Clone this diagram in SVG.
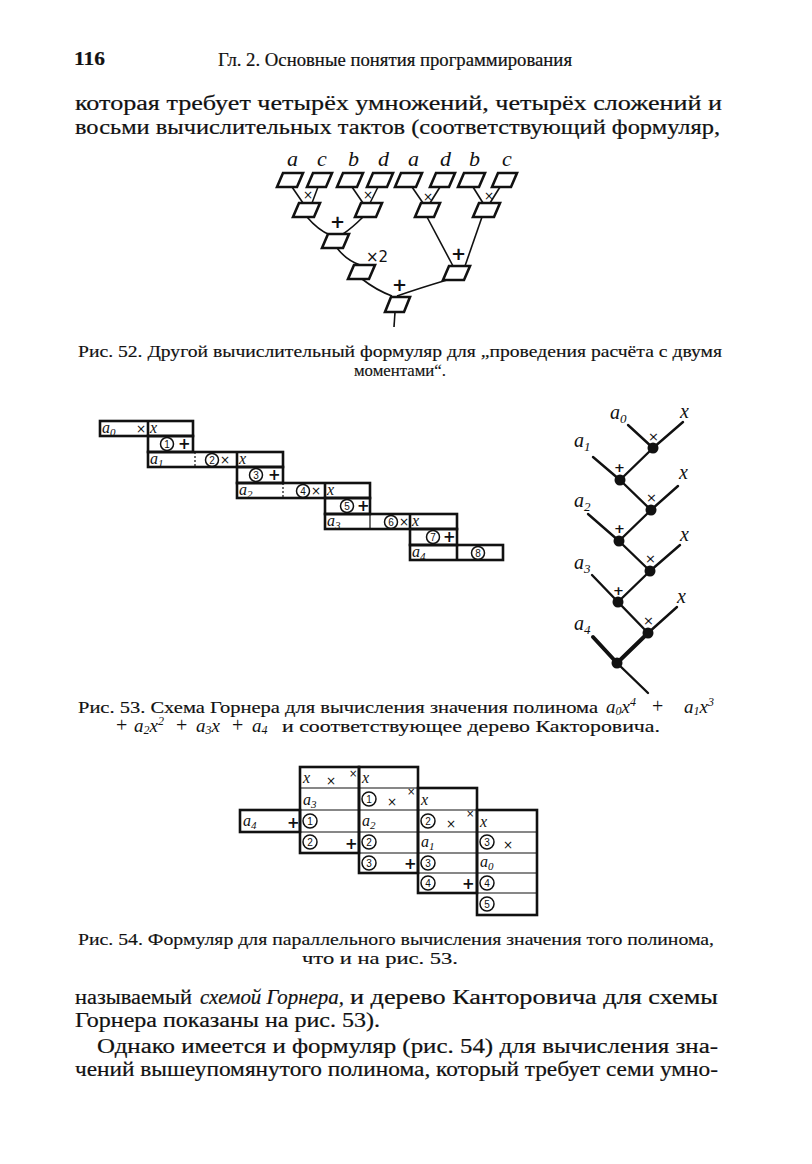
<svg xmlns="http://www.w3.org/2000/svg" width="812" height="1164" viewBox="0 0 812 1164">
<style>
.t{font-family:"Liberation Serif",serif;font-size:20px;fill:#111;stroke:#111;stroke-width:0.2}
.c{font-family:"Liberation Serif",serif;font-size:16px;fill:#111;stroke:#111;stroke-width:0.15}
.h{font-family:"Liberation Serif",serif;font-size:18px;fill:#111;stroke:#111;stroke-width:0.2}
.m{font-family:"Liberation Serif",serif;font-style:italic;fill:#111}
.op{font-family:"DejaVu Sans",sans-serif;fill:#111}
.pg{fill:#fff;stroke:#111;stroke-width:2.6;stroke-linejoin:miter}
.ln{fill:none;stroke:#111;stroke-width:1.6}
.tk{fill:none;stroke:#111;stroke-width:2.6}
.th{fill:none;stroke:#111;stroke-width:1.2}
.dash{fill:none;stroke:#111;stroke-width:1.2;stroke-dasharray:2 2}
.cr{fill:none;stroke:#111;stroke-width:1.5}
.cn{font-family:"Liberation Sans",sans-serif;font-size:10px;fill:#111;text-anchor:middle}
.tr{fill:none;stroke:#111;stroke-width:2.4;stroke-linecap:round}
.trk{fill:none;stroke:#111;stroke-width:4;stroke-linecap:round}
.nd{fill:#111}
.pl{font-family:"Liberation Serif",serif;font-size:20px;fill:#111}
</style>
<rect width="812" height="1164" fill="#fff"/>

<!-- page header and text -->
<g id="header">
<text class="h" x="74" y="65" textLength="31" lengthAdjust="spacingAndGlyphs" font-weight="bold">116</text>
<text class="h" x="218" y="66" textLength="354" lengthAdjust="spacingAndGlyphs">Гл. 2. Основные понятия программирования</text>
</g>
<g id="para-top">
<text class="t" x="75" y="110" textLength="647" lengthAdjust="spacingAndGlyphs">которая  требует  четырёх  умножений,  четырёх  сложений  и</text>
<text class="t" x="75" y="134" textLength="645" lengthAdjust="spacingAndGlyphs">восьми  вычислительных  тактов  (соответствующий  формуляр,</text>
</g>

<!-- Fig 52 -->
<g id="fig52">
<g id="fig52-labels" class="m" font-size="22">
<text x="287" y="166">a</text><text x="317" y="166">c</text><text x="348" y="166">b</text><text x="378" y="166">d</text>
<text x="408" y="166">a</text><text x="440" y="166">d</text><text x="469" y="166">b</text><text x="502" y="166">c</text>
</g>
<g id="fig52-connectors">
<line class="ln" x1="292" y1="187" x2="303" y2="203"/>
<line class="ln" x1="318" y1="187" x2="312" y2="203"/>
<line class="ln" x1="352" y1="187" x2="363" y2="203"/>
<line class="ln" x1="378" y1="187" x2="370" y2="203"/>
<line class="ln" x1="412" y1="187" x2="423" y2="203"/>
<line class="ln" x1="440" y1="187" x2="430" y2="203"/>
<line class="ln" x1="473" y1="187" x2="483" y2="203"/>
<line class="ln" x1="500" y1="187" x2="490" y2="203"/>
<path class="ln" d="M307 217 Q318 230 330 235"/>
<path class="ln" d="M363 217 Q352 228 343 234"/>
<path class="ln" d="M337 248 Q346 260 360 265"/>
<line class="ln" x1="427" y1="217" x2="453" y2="266"/>
<line class="ln" x1="482" y1="217" x2="465" y2="266"/>
<path class="ln" d="M362 279 Q376 290 392 296"/>
<path class="ln" d="M447 280 Q420 288 397 296"/>
<line class="ln" x1="395" y1="312" x2="394" y2="327"/>
</g>
<g id="fig52-ops" class="op">
<text x="303" y="199" font-size="12">×</text>
<text x="363" y="199" font-size="12">×</text>
<text x="423" y="201" font-size="12">×</text>
<text x="484" y="200" font-size="12">×</text>
<text x="330" y="228" font-size="18" font-weight="bold">+</text>
<text x="366" y="262" font-size="15">×2</text>
<text x="451" y="260" font-size="18" font-weight="bold">+</text>
<text x="392" y="291" font-size="18" font-weight="bold">+</text>
</g>
<g id="fig52-row1">
<polygon class="pg" points="277,187 283,173 303,173 297,187"/>
<polygon class="pg" points="307,187 313,173 332,173 326,187"/>
<polygon class="pg" points="337,187 343,173 363,173 357,187"/>
<polygon class="pg" points="367,187 373,173 393,173 387,187"/>
<polygon class="pg" points="395,187 401,173 422,173 416,187"/>
<polygon class="pg" points="430,187 436,173 455,173 449,187"/>
<polygon class="pg" points="458,187 464,173 485,173 479,187"/>
<polygon class="pg" points="492,187 498,173 517,173 511,187"/>
</g>
<g id="fig52-row2">
<polygon class="pg" points="293,217 299,203 320,203 314,217"/>
<polygon class="pg" points="355,217 361,203 382,203 376,217"/>
<polygon class="pg" points="415,217 421,203 440,203 434,217"/>
<polygon class="pg" points="473,217 479,203 500,203 494,217"/>
</g>
<g id="fig52-row3">
<polygon class="pg" points="322,248 328,234 349,234 343,248"/>
<polygon class="pg" points="348,279 354,265 375,265 369,279"/>
<polygon class="pg" points="443,280 449,266 470,266 464,280"/>
<polygon class="pg" points="385,312 391,297 410,297 404,312"/>
</g>
<text class="c" x="78" y="357" textLength="644" lengthAdjust="spacingAndGlyphs">Рис. 52. Другой вычислительный формуляр для „проведения расчёта с двумя</text>
<text class="c" x="354" y="376" textLength="92" lengthAdjust="spacingAndGlyphs">моментами“.</text>
</g>

<!-- Fig 53 left: Horner formular -->
<g id="fig53-table">
<g id="h-step1">
<rect class="tk" x="100" y="421" width="93" height="15"/>
<line class="tk" x1="148" y1="421" x2="148" y2="436"/>
<rect class="tk" x="148" y="436" width="45" height="16"/>
<text class="m" x="102" y="433" font-size="16">a<tspan font-size="11" dy="3">0</tspan></text>
<text class="op" x="136" y="433" font-size="12">×</text>
<text class="m" x="150" y="433" font-size="16">x</text>
<circle class="cr" cx="167" cy="444" r="6.5"/><text class="cn" x="167" y="448">1</text>
<text class="op" x="178" y="449" font-size="15" font-weight="bold">+</text>
</g>
<g id="h-step2">
<rect class="tk" x="148" y="452" width="135" height="15"/>
<line class="dash" x1="195" y1="452" x2="195" y2="467"/>
<line class="tk" x1="237" y1="452" x2="237" y2="467"/>
<rect class="tk" x="237" y="467" width="46" height="16"/>
<text class="m" x="150" y="464" font-size="16">a<tspan font-size="11" dy="3">1</tspan></text>
<circle class="cr" cx="212" cy="460" r="6.5"/><text class="cn" x="212" y="464">2</text>
<text class="op" x="220" y="464" font-size="12">×</text>
<text class="m" x="239" y="464" font-size="16">x</text>
<circle class="cr" cx="256" cy="475" r="6.5"/><text class="cn" x="256" y="479">3</text>
<text class="op" x="268" y="480" font-size="15" font-weight="bold">+</text>
</g>
<g id="h-step3">
<rect class="tk" x="237" y="483" width="133" height="15"/>
<line class="dash" x1="283" y1="483" x2="283" y2="498"/>
<line class="tk" x1="325" y1="483" x2="325" y2="498"/>
<rect class="tk" x="325" y="498" width="45" height="16"/>
<text class="m" x="239" y="495" font-size="16">a<tspan font-size="11" dy="3">2</tspan></text>
<circle class="cr" cx="303" cy="491" r="6.5"/><text class="cn" x="303" y="495">4</text>
<text class="op" x="311" y="495" font-size="12">×</text>
<text class="m" x="327" y="495" font-size="16">x</text>
<circle class="cr" cx="347" cy="506" r="6.5"/><text class="cn" x="347" y="510">5</text>
<text class="op" x="357" y="511" font-size="15" font-weight="bold">+</text>
</g>
<g id="h-step4">
<rect class="tk" x="325" y="514" width="132" height="15"/>
<line class="th" x1="370" y1="514" x2="370" y2="529"/>
<line class="tk" x1="410" y1="514" x2="410" y2="529"/>
<rect class="tk" x="410" y="529" width="47" height="16"/>
<text class="m" x="327" y="526" font-size="16">a<tspan font-size="11" dy="3">3</tspan></text>
<circle class="cr" cx="391" cy="522" r="6.5"/><text class="cn" x="391" y="526">6</text>
<text class="op" x="399" y="526" font-size="12">×</text>
<text class="m" x="412" y="526" font-size="16">x</text>
<circle class="cr" cx="433" cy="537" r="6.5"/><text class="cn" x="433" y="541">7</text>
<text class="op" x="443" y="542" font-size="15" font-weight="bold">+</text>
</g>
<g id="h-step5">
<rect class="tk" x="410" y="545" width="93" height="15"/>
<line class="tk" x1="457" y1="545" x2="457" y2="560"/>
<text class="m" x="412" y="557" font-size="16">a<tspan font-size="11" dy="3">4</tspan></text>
<circle class="cr" cx="478" cy="553" r="6.5"/><text class="cn" x="478" y="557">8</text>
</g>
</g>

<!-- Fig 53 right: Kantorovich tree -->
<g id="fig53-tree">
<g id="tree-connectors">
<line class="tr" x1="628" y1="425" x2="653" y2="448"/>
<line class="tr" x1="683" y1="422" x2="653" y2="448"/>
<line class="tr" x1="593" y1="457" x2="620" y2="480"/>
<line class="tr" x1="653" y1="448" x2="620" y2="480"/>
<line class="tr" x1="620" y1="480" x2="651" y2="510"/>
<line class="tr" x1="678" y1="486" x2="651" y2="510"/>
<line class="tr" x1="588" y1="514" x2="619" y2="541"/>
<line class="tr" x1="651" y1="510" x2="619" y2="541"/>
<line class="tr" x1="619" y1="541" x2="650" y2="571"/>
<line class="tr" x1="680" y1="545" x2="650" y2="571"/>
<line class="tr" x1="592" y1="575" x2="618" y2="602"/>
<line class="tr" x1="650" y1="571" x2="618" y2="602"/>
<line class="tr" x1="618" y1="602" x2="648" y2="633"/>
<line class="tr" x1="677" y1="607" x2="648" y2="633"/>
<line class="trk" x1="593" y1="637" x2="617" y2="663"/>
<line class="trk" x1="648" y1="633" x2="617" y2="663"/>
<line class="tr" x1="617" y1="663" x2="648" y2="693"/>
</g>
<g id="tree-nodes">
<circle class="nd" cx="653" cy="448" r="5.5"/>
<circle class="nd" cx="620" cy="480" r="5.5"/>
<circle class="nd" cx="651" cy="510" r="5.5"/>
<circle class="nd" cx="619" cy="541" r="5.5"/>
<circle class="nd" cx="650" cy="571" r="5.5"/>
<circle class="nd" cx="618" cy="602" r="5.5"/>
<circle class="nd" cx="648" cy="633" r="5.5"/>
<circle class="nd" cx="617" cy="663" r="5.5"/>
</g>
<g id="tree-ops" class="op" font-size="13">
<text x="648" y="441">×</text>
<text x="614" y="472" font-weight="bold">+</text>
<text x="646" y="502">×</text>
<text x="614" y="533" font-weight="bold">+</text>
<text x="645" y="563">×</text>
<text x="613" y="595" font-weight="bold">+</text>
<text x="643" y="625">×</text>
</g>
<g id="tree-labels" class="m" font-size="20">
<text x="610" y="419">a<tspan font-size="13" dy="4">0</tspan></text>
<text x="680" y="418">x</text>
<text x="574" y="447">a<tspan font-size="13" dy="4">1</tspan></text>
<text x="679" y="479">x</text>
<text x="574" y="507">a<tspan font-size="13" dy="4">2</tspan></text>
<text x="680" y="541">x</text>
<text x="574" y="569">a<tspan font-size="13" dy="4">3</tspan></text>
<text x="677" y="603">x</text>
<text x="574" y="630">a<tspan font-size="13" dy="4">4</tspan></text>
</g>
</g>
<g id="fig53-caption">
<text class="c" x="78" y="713" textLength="520" lengthAdjust="spacingAndGlyphs">Рис.  53.  Схема  Горнера  для  вычисления  значения  полинома</text>
<text class="m" x="606" y="713" font-size="19">a<tspan font-size="12" dy="2">0</tspan><tspan dy="-2">x</tspan><tspan font-size="12" dy="-7">4</tspan></text>
<text class="pl" x="652" y="713">+</text>
<text class="m" x="684" y="713" font-size="19">a<tspan font-size="12" dy="2">1</tspan><tspan dy="-2">x</tspan><tspan font-size="12" dy="-7">3</tspan></text>
<text class="pl" x="116" y="732">+</text>
<text class="m" x="134" y="732" font-size="19">a<tspan font-size="12" dy="2">2</tspan><tspan dy="-2">x</tspan><tspan font-size="12" dy="-7">2</tspan></text>
<text class="pl" x="176" y="732">+</text>
<text class="m" x="196" y="732" font-size="19">a<tspan font-size="12" dy="2">3</tspan><tspan dy="-2">x</tspan></text>
<text class="pl" x="232" y="732">+</text>
<text class="m" x="252" y="732" font-size="19">a<tspan font-size="12" dy="2">4</tspan></text>
<text class="c" x="282" y="732" textLength="378" lengthAdjust="spacingAndGlyphs">и  соответствующее  дерево  Какторовича.</text>
</g>

<!-- Fig 54 -->
<g id="fig54">
<g id="p-grid">
<line class="th" x1="300" y1="788" x2="418" y2="788"/>
<line class="th" x1="300" y1="810" x2="477" y2="810"/>
<line class="th" x1="300" y1="832" x2="537" y2="832"/>
<line class="th" x1="359" y1="853" x2="537" y2="853"/>
<line class="th" x1="418" y1="873" x2="537" y2="873"/>
<line class="th" x1="477" y1="893" x2="537" y2="893"/>
<rect class="tk" x="240" y="810" width="60" height="22"/>
<rect class="tk" x="300" y="767" width="59" height="86"/>
<rect class="tk" x="359" y="767" width="59" height="106"/>
<rect class="tk" x="418" y="788" width="59" height="105"/>
<rect class="tk" x="477" y="810" width="60" height="105"/>
</g>
<g id="p-texts">
<text class="m" x="303" y="783" font-size="16">x</text>
<text class="op" x="326" y="785" font-size="12">×</text>
<text class="op" x="349" y="777" font-size="10">×</text>
<text class="m" x="362" y="783" font-size="16">x</text>

<text class="m" x="303" y="805" font-size="16">a<tspan font-size="11" dy="3">3</tspan></text>
<circle class="cr" cx="369" cy="799" r="7"/><text class="cn" x="369" y="803" font-size="11">1</text>
<text class="op" x="387" y="806" font-size="12">×</text>
<text class="op" x="407" y="795" font-size="10">×</text>
<text class="m" x="421" y="805" font-size="16">x</text>

<text class="m" x="243" y="826" font-size="16">a<tspan font-size="11" dy="3">4</tspan></text>
<text class="op" x="287" y="828" font-size="15" font-weight="bold">+</text>
<circle class="cr" cx="310" cy="821" r="7"/><text class="cn" x="310" y="825" font-size="11">1</text>
<text class="m" x="362" y="826" font-size="16">a<tspan font-size="11" dy="3">2</tspan></text>
<circle class="cr" cx="428" cy="821" r="7"/><text class="cn" x="428" y="825" font-size="11">2</text>
<text class="op" x="446" y="828" font-size="12">×</text>
<text class="op" x="466" y="817" font-size="10">×</text>
<text class="m" x="480" y="827" font-size="16">x</text>

<circle class="cr" cx="310" cy="842" r="7"/><text class="cn" x="310" y="846" font-size="11">2</text>
<text class="op" x="345" y="849" font-size="15" font-weight="bold">+</text>
<circle class="cr" cx="369" cy="842" r="7"/><text class="cn" x="369" y="846" font-size="11">2</text>
<text class="m" x="421" y="847" font-size="16">a<tspan font-size="11" dy="3">1</tspan></text>
<circle class="cr" cx="487" cy="842" r="7"/><text class="cn" x="487" y="846" font-size="11">3</text>
<text class="op" x="503" y="849" font-size="12">×</text>

<circle class="cr" cx="369" cy="863" r="7"/><text class="cn" x="369" y="867" font-size="11">3</text>
<text class="op" x="404" y="869" font-size="15" font-weight="bold">+</text>
<circle class="cr" cx="428" cy="863" r="7"/><text class="cn" x="428" y="867" font-size="11">3</text>
<text class="m" x="480" y="867" font-size="16">a<tspan font-size="11" dy="3">0</tspan></text>

<circle class="cr" cx="428" cy="883" r="7"/><text class="cn" x="428" y="887" font-size="11">4</text>
<text class="op" x="462" y="889" font-size="15" font-weight="bold">+</text>
<circle class="cr" cx="487" cy="883" r="7"/><text class="cn" x="487" y="887" font-size="11">4</text>

<circle class="cr" cx="487" cy="904" r="7"/><text class="cn" x="487" y="908" font-size="11">5</text>
</g>
<text class="c" x="78" y="945" textLength="636" lengthAdjust="spacingAndGlyphs">Рис. 54. Формуляр для параллельного вычисления значения того полинома,</text>
<text class="c" x="302" y="964" textLength="156" lengthAdjust="spacingAndGlyphs">что и на рис. 53.</text>
</g>

<!-- bottom text -->
<g id="para-bottom">
<text class="t" x="75" y="1004" textLength="117" lengthAdjust="spacingAndGlyphs">называемый</text>
<text class="t" x="200" y="1004" font-style="italic" textLength="144" lengthAdjust="spacingAndGlyphs">схемой Горнера,</text>
<text class="t" x="350" y="1004" textLength="368" lengthAdjust="spacingAndGlyphs">и  дерево  Канторовича  для  схемы</text>
<text class="t" x="75" y="1027" textLength="305" lengthAdjust="spacingAndGlyphs">Горнера показаны на рис. 53).</text>
<text class="t" x="97" y="1053" textLength="621" lengthAdjust="spacingAndGlyphs">Однако  имеется  и  формуляр  (рис.  54)  для  вычисления  зна-</text>
<text class="t" x="75" y="1076" textLength="643" lengthAdjust="spacingAndGlyphs">чений  вышеупомянутого  полинома,  который  требует  семи  умно-</text>
</g>
</svg>
